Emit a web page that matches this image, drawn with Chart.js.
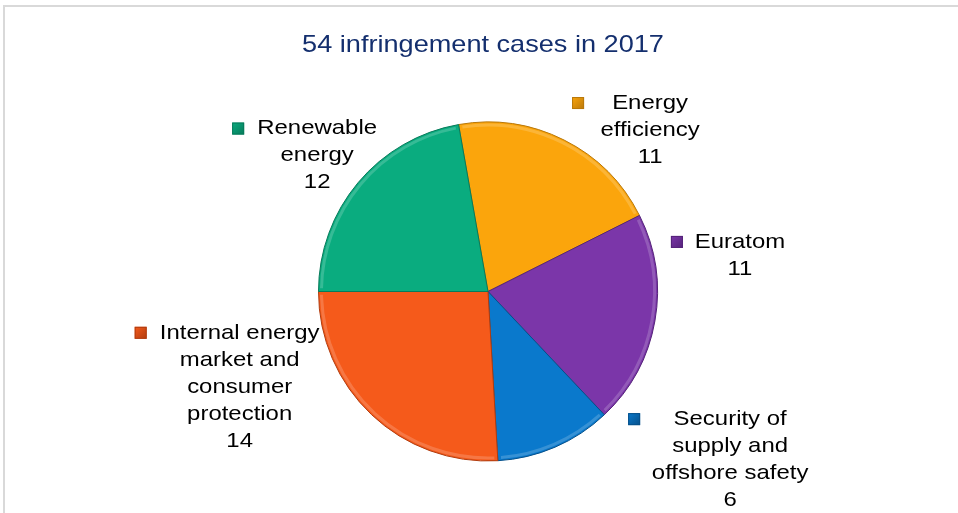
<!DOCTYPE html>
<html>
<head>
<meta charset="utf-8">
<script src="https://cdn.jsdelivr.net/npm/chart.js@4.4.1/dist/chart.umd.min.js"></script>
<style>
  html, body { margin: 0; padding: 0; background: #fff; }
  #wrap { width: 958px; height: 513px; position: relative; }
</style>
</head>
<body>
<div id="wrap"><canvas id="myChart" width="958" height="513"></canvas></div>
<script>
// data
const categories = [
    ['Energy', 'efficiency'],
    ['Euratom'],
    ['Security of', 'supply and', 'offshore safety'],
    ['Internal energy', 'market and', 'consumer', 'protection'],
    ['Renewable', 'energy']
];
const cases = [11, 11, 6, 14, 12];
const titleText = '54 infringement cases in 2017';

const fillColors = ['#fba50c', '#7b36a9', '#0a79cc', '#f55a1b', '#0aac7f'];
const edgeColors = ['#b9780a', '#55237a', '#06508a', '#b03c0f', '#077a5a'];

// where each label sits, relative to the slice's outer point (layout only)
const labelOffsets = [
    { dx: 86, dy: -37, kx: -72 },
    { dx: 85, dy: -79, kx: -63 },
    { dx: 175, dy: -28, kx: -96 },
    { dx: -132, dy: -82, kx: -99 },
    { dx: -41, dy: -54, kx: -79 }
];

// text in the original is a bit wider than plain Arial
function wideText(ctx, txt, x, y, sx) {
    ctx.save();
    ctx.translate(x, y);
    ctx.scale(sx, 1);
    ctx.fillText(txt, 0, 0);
    ctx.restore();
}

const framePlugin = {
    id: 'frame',
    beforeDraw(chart) {
        const ctx = chart.ctx;
        ctx.save();
        ctx.fillStyle = '#fff';
        ctx.fillRect(0, 0, chart.width, chart.height);
        ctx.strokeStyle = '#d9d9d9';
        ctx.lineWidth = 2;
        ctx.beginPath();
        ctx.moveTo(4, chart.height);
        ctx.lineTo(4, 6);
        ctx.lineTo(chart.width, 6);
        ctx.stroke();
        ctx.restore();
    }
};

const labelPlugin = {
    id: 'sliceLabels',
    afterDatasetsDraw(chart) {
        const ctx = chart.ctx;
        const arcs = chart.getDatasetMeta(0).data;
        ctx.save();
        // soft bevel along the outer rim of each slice
        arcs.forEach((arc) => {
            ctx.beginPath();
            ctx.arc(arc.x, arc.y, arc.outerRadius - 3, arc.startAngle + 0.02, arc.endAngle - 0.02);
            ctx.strokeStyle = 'rgba(255,255,255,0.18)';
            ctx.lineWidth = 3;
            ctx.stroke();
        });

        ctx.font = '21px "Liberation Sans", Arial, sans-serif';
        ctx.textAlign = 'center';
        ctx.textBaseline = 'middle';
        arcs.forEach((arc, i) => {
            const mid = (arc.startAngle + arc.endAngle) / 2;
            const ox = arc.x + Math.cos(mid) * arc.outerRadius;
            const oy = arc.y + Math.sin(mid) * arc.outerRadius;
            const off = labelOffsets[i];
            const cx = ox + off.dx;
            const cy = oy + off.dy;
            const lines = categories[i].concat([String(cases[i])]);
            ctx.fillStyle = '#000';
            lines.forEach((ln, j) => wideText(ctx, ln, cx, cy + j * 27, 1.14));
            // legend key
            const kx = cx + off.kx;
            const g = ctx.createLinearGradient(kx - 6, cy - 6, kx + 6, cy + 6);
            g.addColorStop(0, fillColors[i]);
            g.addColorStop(1, edgeColors[i]);
            ctx.fillStyle = g;
            ctx.fillRect(kx - 6, cy - 6, 12, 12);
            ctx.strokeStyle = edgeColors[i];
            ctx.lineWidth = 1;
            ctx.strokeRect(kx - 5.5, cy - 5.5, 11, 11);
        });

        ctx.fillStyle = '#142f6e';
        ctx.font = '24px "Liberation Sans", Arial, sans-serif';
        wideText(ctx, titleText, 483, 45, 1.13);
        ctx.restore();
    }
};

const ctx = document.getElementById('myChart').getContext('2d');
new Chart(ctx, {
    type: 'pie',
    data: {
        labels: categories.map(c => c.join(' ')),
        datasets: [{
            data: cases,
            backgroundColor: fillColors,
            borderColor: edgeColors,
            borderWidth: 1
        }]
    },
    options: {
        responsive: false,
        animation: false,
        rotation: -10,
        layout: { padding: { top: 121, bottom: 51, left: 318, right: 300 } },
        plugins: {
            legend: { display: false },
            tooltip: { enabled: false },
            title: { display: false }
        }
    },
    plugins: [framePlugin, labelPlugin]
});
</script>
</body>
</html>
